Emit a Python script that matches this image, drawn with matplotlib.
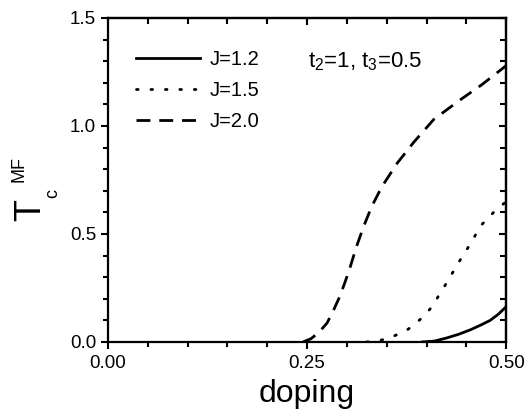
import numpy as np
import matplotlib
matplotlib.use("Agg")
import matplotlib.pyplot as plt
from matplotlib.ticker import MultipleLocator

plt.rcParams['font.family'] = ['Liberation Sans', 'DejaVu Sans']
plt.rcParams['mathtext.fontset'] = 'custom'
plt.rcParams['mathtext.rm'] = 'Liberation Sans'
plt.rcParams['mathtext.it'] = 'Liberation Sans'

# mean-field Tc vs doping for three J values
dop_j12 = [0.395, 0.41, 0.425, 0.44, 0.455, 0.468, 0.48, 0.49, 0.50]
tc_j12 = [0.0, 0.004, 0.018, 0.035, 0.056, 0.078, 0.10, 0.128, 0.163]

dop_j15 = [0.325, 0.340, 0.358, 0.377, 0.394, 0.407, 0.417, 0.428, 0.438,
           0.449, 0.459, 0.469, 0.485, 0.500]
tc_j15 = [0.0, 0.005, 0.025, 0.059, 0.11, 0.163, 0.225, 0.29, 0.355,
          0.418, 0.48, 0.542, 0.603, 0.65]

dop_j20 = [0.245, 0.255, 0.265, 0.275, 0.283, 0.291, 0.297, 0.303, 0.312,
           0.321, 0.331, 0.344, 0.363, 0.384, 0.409, 0.440, 0.469, 0.495, 0.500]
tc_j20 = [0.0, 0.015, 0.045, 0.087, 0.145, 0.21, 0.27, 0.333, 0.441,
          0.534, 0.626, 0.719, 0.827, 0.925, 1.03, 1.115, 1.19, 1.265, 1.28]

labels = ['J=1.2', 'J=1.5', 'J=2.0']

fig = plt.figure(figsize=(5.24, 4.09), dpi=100)
ax = fig.add_axes([0.206, 0.164, 0.760, 0.792])

lw = 2.0
ax.plot(dop_j12, tc_j12, color='black', lw=lw, label=labels[0])
ax.plot(dop_j15, tc_j15, color='black', lw=lw, dashes=(0.6, 4.6),
        dash_capstyle='round', label=labels[1])
ax.plot(dop_j20, tc_j20, color='black', lw=lw, dashes=(5.0, 3.2), label=labels[2])

ax.set_xlim(0, 0.5)
ax.set_ylim(0, 1.5)
ax.xaxis.set_major_locator(MultipleLocator(0.25))
ax.xaxis.set_minor_locator(MultipleLocator(0.05))
ax.yaxis.set_major_locator(MultipleLocator(0.5))
ax.yaxis.set_minor_locator(MultipleLocator(0.1))
ax.xaxis.set_major_formatter(matplotlib.ticker.FormatStrFormatter('%.2f'))
ax.yaxis.set_major_formatter(matplotlib.ticker.FormatStrFormatter('%.1f'))

for s in ax.spines.values():
    s.set_linewidth(1.6)
ax.tick_params(which='both', direction='out', width=1.5, labelsize=13.5,
               top=False, right=False)
ax.tick_params(which='major', length=5)
ax.tick_params(which='minor', length=3.5)
ax.tick_params(axis='x', pad=4.5)

# mirrored ticks pointing inward on top and right
ax_top = ax.secondary_xaxis('top')
ax_top.xaxis.set_major_locator(MultipleLocator(0.25))
ax_top.xaxis.set_minor_locator(MultipleLocator(0.05))
ax_top.tick_params(which='both', direction='in', width=1.5, labeltop=False)
ax_top.tick_params(which='major', length=5)
ax_top.tick_params(which='minor', length=4)
ax_right = ax.secondary_yaxis('right')
ax_right.yaxis.set_major_locator(MultipleLocator(0.5))
ax_right.yaxis.set_minor_locator(MultipleLocator(0.1))
ax_right.tick_params(which='both', direction='in', width=1.5, labelright=False)
ax_right.tick_params(which='major', length=5)
ax_right.tick_params(which='minor', length=4)
for sec in (ax_top, ax_right):
    for s in sec.spines.values():
        s.set_linewidth(1.6)

ax.set_xlabel('doping', fontsize=23, labelpad=5)

fig.text(0.058, 0.487, 'T', rotation=90, fontsize=26, ha='center', va='center')
fig.text(0.100, 0.528, 'c', rotation=90, fontsize=13, ha='center', va='center')
fig.text(0.036, 0.588, 'MF', rotation=90, fontsize=13, ha='center', va='center')

ax.text(0.251, 1.273, 't$_2$=1, t$_3$=0.5', fontsize=16, ha='left', va='baseline')

ax.legend(loc='upper left', bbox_to_anchor=(0.05, 0.925), frameon=False,
          fontsize=14.5, handlelength=3.2, handletextpad=0.45, labelspacing=0.58,
          borderaxespad=0)

fig.savefig('out.png', dpi=100)
